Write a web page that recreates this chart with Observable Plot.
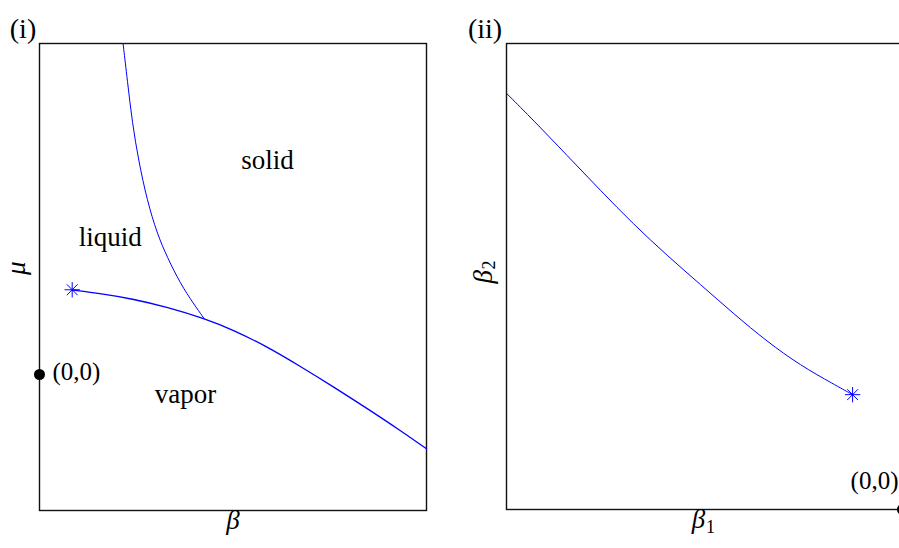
<!DOCTYPE html>
<html>
<head>
<meta charset="utf-8">
<script src="https://cdn.jsdelivr.net/npm/d3@7"></script>
<script src="https://cdn.jsdelivr.net/npm/@observablehq/plot@0.6"></script>
<style>
  html, body { margin: 0; padding: 0; background: #fff; }
  #wrap { position: relative; width: 899px; height: 548px; overflow: hidden; background: #fff; }
  #wrap svg { position: absolute; top: 0; max-width: none !important; }
</style>
</head>
<body>
<div id="wrap"></div>
<script>
// ---- Panel (i): beta–mu phase diagram (units: origin (0,0) on left edge) ----
const solidLiquidBeta = [0.216, 0.227, 0.240, 0.256, 0.278, 0.304, 0.330, 0.364, 0.398, 0.425];
const solidLiquidMu   = [0.855, 0.760, 0.649, 0.553, 0.450, 0.364, 0.303, 0.235, 0.183, 0.145];

const vaporBeta = [0.085, 0.158, 0.243, 0.330, 0.425, 0.501, 0.588, 0.674, 0.760, 0.847, 0.933, 1.000];
const vaporMu   = [0.218, 0.209, 0.195, 0.174, 0.145, 0.115, 0.072, 0.021, -0.032, -0.088, -0.145, -0.192];

const criticalBeta = 0.0845, criticalMu = 0.219;

const regionNames = ["solid", "liquid", "vapor"];
const regionBeta  = [0.589, 0.183, 0.377];
const regionMu    = [0.553, 0.354, -0.052];

// ---- Panel (ii): beta1–beta2 curve (origin (0,0) at bottom-right corner) ----
const curveBeta1 = [-1.000, -0.931, -0.847, -0.763, -0.679, -0.594, -0.510, -0.426, -0.342, -0.258, -0.173, -0.126];
const curveBeta2 = [1.051, 0.982, 0.894, 0.806, 0.720, 0.641, 0.568, 0.494, 0.424, 0.364, 0.316, 0.290];
const endBeta1 = -0.126, endBeta2 = 0.290;

const panelLabels = ["(i)", "(ii)"];
const originLabel = "(0,0)";

const FONT = "'Liberation Serif', 'Times New Roman', serif";
const BLUE = "#0000ff";

const zip = (a, b) => a.map((v, i) => ({x: v, y: b[i]}));

const slData = zip(solidLiquidBeta, solidLiquidMu);
const vData = zip(vaporBeta, vaporMu);
const regions = regionNames.map((n, i) => ({name: n, x: regionBeta[i], y: regionMu[i]}));
const rData = zip(curveBeta1, curveBeta2);

function star(pt) {
  return [
    Plot.dot([pt], {x: "x", y: "y", symbol: "plus", r: 5, stroke: BLUE, strokeWidth: 1}),
    Plot.dot([pt], {x: "x", y: "y", symbol: "times", r: 5, stroke: BLUE, strokeWidth: 1})
  ];
}

const T = {fontFamily: FONT, fill: "#000"};

const left = Plot.plot({
  width: 450, height: 548,
  marginLeft: 39, marginRight: 24, marginTop: 43, marginBottom: 38,
  x: {domain: [0, 1], axis: null},
  y: {domain: [-0.3514, 0.8553], axis: null},
  style: {fontFamily: FONT, fontSize: "26px", background: "transparent", overflow: "visible", color: "#000"},
  marks: [
    Plot.frame({stroke: "#111", strokeWidth: 1.4}),
    Plot.line(slData, {x: "x", y: "y", stroke: BLUE, strokeWidth: 1, curve: "basis"}),
    Plot.line(vData, {x: "x", y: "y", stroke: BLUE, strokeWidth: 1.3, curve: "basis"}),
    ...star({x: criticalBeta, y: criticalMu}),
    Plot.dot([{x: 0, y: 0}], {x: "x", y: "y", r: 5.5, fill: "#000"}),
    Plot.text([{x: 0, y: 0}], {x: "x", y: "y", text: () => originLabel, textAnchor: "start", dx: 13, dy: -3, fontSize: 25, ...T}),
    Plot.text(regions, {x: "x", y: "y", text: "name", fontSize: 27, ...T}),
    Plot.text(["β"], {frameAnchor: "bottom", dx: 0, dy: 18, fontStyle: "italic", fontSize: 27, ...T}),
    Plot.text(["μ"], {frameAnchor: "left", rotate: -90, dx: -23, dy: -2, fontStyle: "italic", fontSize: 27, ...T}),
    Plot.text([panelLabels[0]], {frameAnchor: "top-left", textAnchor: "middle", dx: -16.5, dy: -25, fontSize: 28, ...T})
  ]
});
left.style.left = "0px";

const right = Plot.plot({
  width: 470, height: 548,
  marginLeft: 56, marginRight: 18, marginTop: 43, marginBottom: 39,
  x: {domain: [-1, 0], axis: null},
  y: {domain: [0, 1.1768], axis: null},
  style: {fontFamily: FONT, fontSize: "26px", background: "transparent", overflow: "visible", color: "#000"},
  marks: [
    Plot.frame({stroke: "#111", strokeWidth: 1.4}),
    Plot.line(rData, {x: "x", y: "y", stroke: BLUE, strokeWidth: 1, curve: "basis"}),
    ...star({x: endBeta1, y: endBeta2}),
    Plot.dot([{x: 0, y: 0}], {x: "x", y: "y", r: 5.5, fill: "#000"}),
    Plot.text([{x: 0, y: 0}], {x: "x", y: "y", text: () => originLabel, textAnchor: "end", dx: -4, dy: -29, fontSize: 25, ...T}),
    Plot.text(["β"], {frameAnchor: "bottom", dx: -6, dy: 18, fontStyle: "italic", fontSize: 27, ...T}),
    Plot.text(["1"], {frameAnchor: "bottom", dx: 6, dy: 23, fontSize: 18, ...T}),
    Plot.text(["β"], {frameAnchor: "left", rotate: -90, dx: -23, dy: 7, fontStyle: "italic", fontSize: 27, ...T}),
    Plot.text(["2"], {frameAnchor: "left", rotate: -90, dx: -17, dy: -7, fontSize: 18, ...T}),
    Plot.text([panelLabels[1]], {frameAnchor: "top-left", textAnchor: "middle", dx: -21.5, dy: -25, fontSize: 28, ...T})
  ]
});
right.style.left = "450px";

const wrap = document.getElementById("wrap");
wrap.appendChild(left);
wrap.appendChild(right);
</script>
</body>
</html>
